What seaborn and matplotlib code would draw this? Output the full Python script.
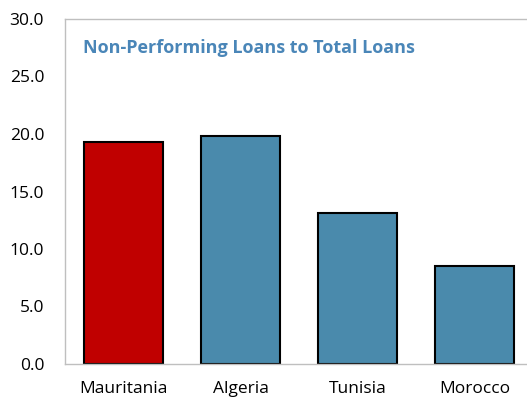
import matplotlib
matplotlib.use("Agg")
import matplotlib.pyplot as plt
import seaborn as sns
import pandas as pd

countries = ["Mauritania", "Algeria", "Tunisia", "Morocco"]
npl_ratio = [19.3, 19.8, 13.1, 8.5]
bar_colors = ["#c00000", "#4a8aac", "#4a8aac", "#4a8aac"]
yticks = [0, 5, 10, 15, 20, 25, 30]
title = "Non-Performing Loans to Total Loans"

sns.set_style("white")
plt.rcParams['font.family'] = ['Open Sans', 'DejaVu Sans']

df = pd.DataFrame({"country": countries, "value": npl_ratio})

fig = plt.figure(figsize=(5.27, 4.01), dpi=100)
ax = fig.add_axes([65/527, 37/401, 468/527, 345/401])

sns.barplot(data=df, x="country", y="value", hue="country",
            palette=dict(zip(countries, bar_colors)), legend=False,
            width=0.675, edgecolor="black", linewidth=1.5, ax=ax, saturation=1)

ax.set_ylim(0, 30)
ax.set_xlim(-0.5, 3.5)
ax.set_yticks(yticks)
ax.set_yticklabels([f"{v:.1f}" for v in yticks], fontsize=12.5, color="black")
ax.set_xlabel("")
ax.set_ylabel("")
ax.tick_params(axis="x", which="major", length=0, pad=12, labelsize=12.5, labelcolor="black")
ax.set_xticks([0.5, 1.5, 2.5], minor=True)
ax.tick_params(axis="x", which="minor", direction="in", length=6, color="#bfbfbf", width=1)
ax.tick_params(axis="y", which="major", direction="in", length=6, color="#bfbfbf", width=1, pad=15)

for side in ["left", "bottom", "top"]:
    ax.spines[side].set_visible(True)
    ax.spines[side].set_color("#bfbfbf")
    ax.spines[side].set_linewidth(1)
ax.spines["right"].set_visible(False)

ax.text(18/468, 0.917, title, transform=ax.transAxes, fontsize=13, fontweight="bold",
        color="#4a86b8", va="center", ha="left")

fig.savefig("out.png", dpi=100)
